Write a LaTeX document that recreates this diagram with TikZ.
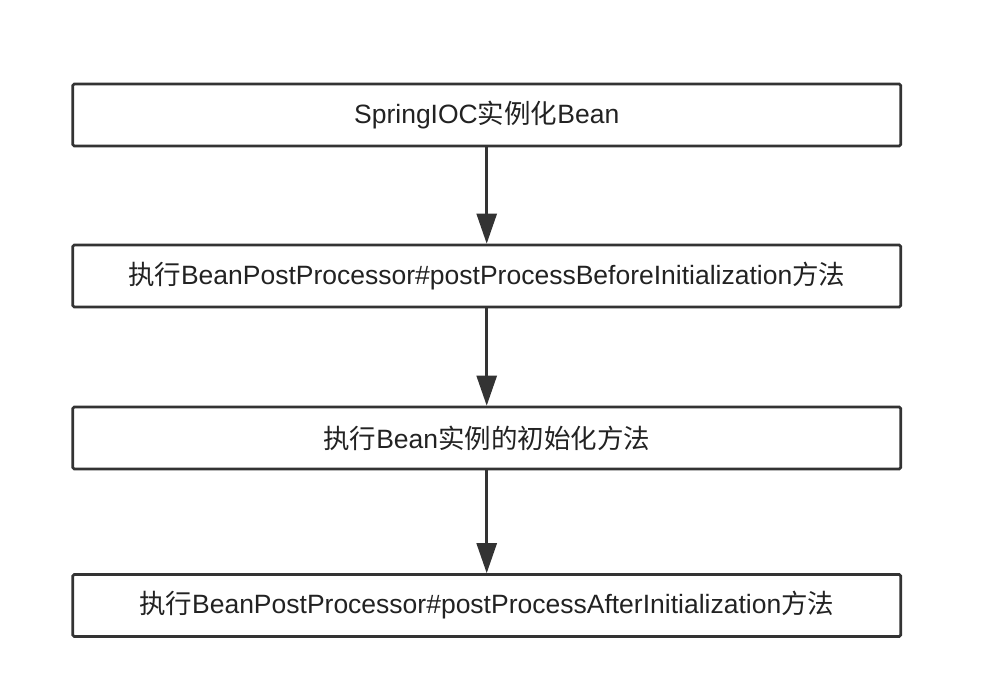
\documentclass[tikz,border=0pt]{standalone}
\usepackage{fontspec}
\setmainfont{Liberation Sans}
\newfontfamily\cjk{Noto Sans CJK SC}
\usetikzlibrary{arrows.meta}

\definecolor{boxline}{HTML}{333333}
\definecolor{boxtext}{HTML}{222222}
\tikzset{
  stagebox/.style={draw=boxline, line width=2.6pt, rounded corners=1.5pt,
    minimum width=828pt, minimum height=62pt, inner sep=0pt,
    text=boxtext, font=\fontsize{26.5}{28}\selectfont},
  flowarrow/.style={draw=boxline, line width=2.6pt,
    -{Triangle[width=20pt, length=30pt]}}
}

\begin{document}
\begin{tikzpicture}[x=1pt, y=-1pt]
    \useasboundingbox (0,0) rectangle (1008,692);

    \node[stagebox] (ioc) at (486.7,115) {SpringIOC{\cjk 实例化}Bean};
    \node[stagebox] (before) at (486.7,276) {{\cjk 执行}BeanPostProcessor\#postProcessBeforeInitialization{\cjk 方法}};
    \node[stagebox] (init) at (486.7,438) {{\cjk 执行}Bean{\cjk 实例的初始化方法}};
    \node[stagebox] (after) at (486.7,605.5) {{\cjk 执行}BeanPostProcessor\#postProcessAfterInitialization{\cjk 方法}};

    \draw[flowarrow] (ioc) -- (before);
    \draw[flowarrow] (before) -- (init);
    \draw[flowarrow] (init) -- (after);
  \end{tikzpicture}
\end{document}
